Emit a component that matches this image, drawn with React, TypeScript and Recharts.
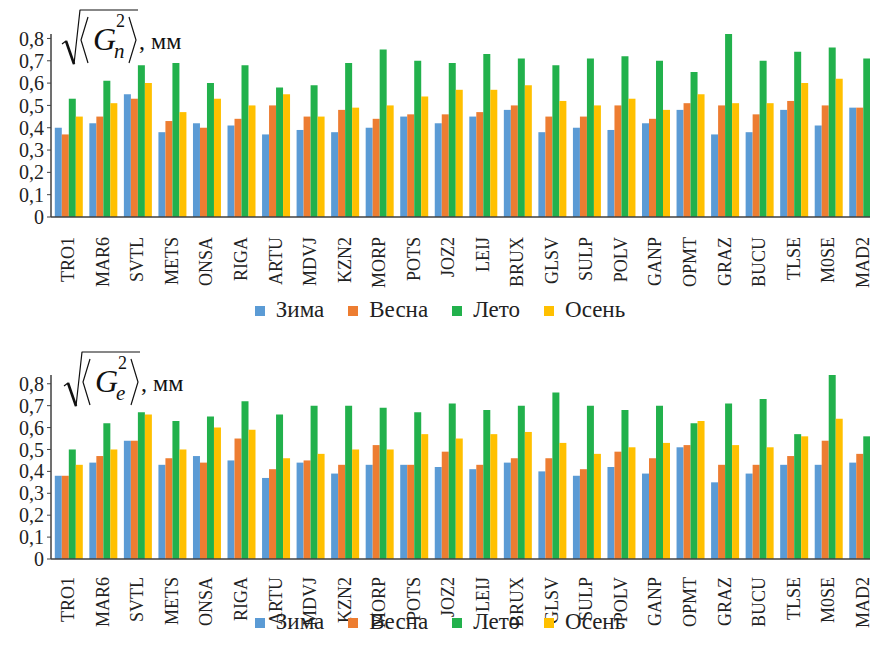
import React from 'react';
import { BarChart, Bar, XAxis, YAxis, Legend } from 'recharts';

const stations = [
  'TRO1', 'MAR6', 'SVTL', 'METS', 'ONSA', 'RIGA', 'ARTU', 'MDVJ', 'KZN2', 'MORP', 'POTS', 'JOZ2',
  'LEIJ', 'BRUX', 'GLSV', 'SULP', 'POLV', 'GANP', 'OPMT', 'GRAZ', 'BUCU', 'TLSE', 'M0SE', 'MAD2',
];

// north component
const gnWinter = [0.40, 0.42, 0.55, 0.38, 0.42, 0.41, 0.37, 0.39, 0.38, 0.40, 0.45, 0.42, 0.45, 0.48, 0.38, 0.40, 0.39, 0.42, 0.48, 0.37, 0.38, 0.48, 0.41, 0.49];
const gnSpring = [0.37, 0.45, 0.53, 0.43, 0.40, 0.44, 0.50, 0.45, 0.48, 0.44, 0.46, 0.46, 0.47, 0.50, 0.45, 0.45, 0.50, 0.44, 0.51, 0.50, 0.46, 0.52, 0.50, 0.49];
const gnSummer = [0.53, 0.61, 0.68, 0.69, 0.60, 0.68, 0.58, 0.59, 0.69, 0.75, 0.70, 0.69, 0.73, 0.71, 0.68, 0.71, 0.72, 0.70, 0.65, 0.82, 0.70, 0.74, 0.76, 0.71];
const gnAutumn = [0.45, 0.51, 0.60, 0.47, 0.53, 0.50, 0.55, 0.45, 0.49, 0.50, 0.54, 0.57, 0.57, 0.59, 0.52, 0.50, 0.53, 0.48, 0.55, 0.51, 0.51, 0.60, 0.62, 0.61];

// east component
const geWinter = [0.38, 0.44, 0.54, 0.43, 0.47, 0.45, 0.37, 0.44, 0.39, 0.43, 0.43, 0.42, 0.41, 0.44, 0.40, 0.38, 0.42, 0.39, 0.51, 0.35, 0.39, 0.43, 0.43, 0.44];
const geSpring = [0.38, 0.47, 0.54, 0.46, 0.44, 0.55, 0.41, 0.45, 0.43, 0.52, 0.43, 0.49, 0.43, 0.46, 0.46, 0.41, 0.49, 0.46, 0.52, 0.43, 0.43, 0.47, 0.54, 0.48];
const geSummer = [0.50, 0.62, 0.67, 0.63, 0.65, 0.72, 0.66, 0.70, 0.70, 0.69, 0.67, 0.71, 0.68, 0.70, 0.76, 0.70, 0.68, 0.70, 0.62, 0.71, 0.73, 0.57, 0.84, 0.56];
const geAutumn = [0.43, 0.50, 0.66, 0.50, 0.60, 0.59, 0.46, 0.48, 0.50, 0.50, 0.57, 0.55, 0.57, 0.58, 0.53, 0.48, 0.51, 0.53, 0.63, 0.52, 0.51, 0.56, 0.64, 0.50];

const yTicks = [0, 0.1, 0.2, 0.3, 0.4, 0.5, 0.6, 0.7, 0.8];

const seasons = [
  { key: 'winter', name: 'Зима', color: '#5B9BD5' },
  { key: 'spring', name: 'Весна', color: '#ED7D31' },
  { key: 'summer', name: 'Лето', color: '#22B14C' },
  { key: 'autumn', name: 'Осень', color: '#FFC000' },
];

const FONT = 'Liberation Serif';
const AXIS = '#404040';

const buildRows = (w: number[], s: number[], su: number[], a: number[]) =>
  stations.map((name, i) => ({ name, winter: w[i], spring: s[i], summer: su[i], autumn: a[i] }));

const gnData = buildRows(gnWinter, gnSpring, gnSummer, gnAutumn);
const geData = buildRows(geWinter, geSpring, geSummer, geAutumn);

const makeTick = (gap: number) => (props: any) => {
  const { x, y, payload } = props;
  return (
    <g transform={`translate(${x + 6},${y + gap}) rotate(-90)`}>
      <text textAnchor="end" fontSize={18} fontFamily={FONT} fill="#222">
        {payload.value}
      </text>
    </g>
  );
};

// legend drawn in series order
const renderLegend = () => (
  <div style={{ height: 28, display: 'flex', justifyContent: 'center', alignItems: 'center', fontFamily: FONT, fontSize: 23, color: '#222', paddingLeft: 24 }}>
    {seasons.map((s) => (
      <span key={s.key} style={{ display: 'flex', alignItems: 'center', marginRight: 24 }}>
        <span style={{ width: 10, height: 10, background: s.color, display: 'inline-block', marginRight: 11, marginTop: 2 }} />
        {s.name}
      </span>
    ))}
  </div>
);

const Title = ({ sub, top, left }: { sub: string; top: number; left: number }) => (
  <svg width={200} height={75} style={{ position: 'absolute', top, left, pointerEvents: 'none' }}>
    <path d="M62,44 L66,41 L74,64 L80,10 L138,10" fill="none" stroke="#111" strokeWidth={1.2} strokeLinejoin="round" />
    <path d="M66,41 L74,64" fill="none" stroke="#111" strokeWidth={2.6} />
    <path d="M88,17 L81,40 L88,63" fill="none" stroke="#111" strokeWidth={1.2} />
    <path d="M129,17 L136,40 L129,63" fill="none" stroke="#111" strokeWidth={1.2} />
    <text x={93} y={50} fontSize={32} fontStyle="italic" fontFamily={FONT} fill="#111">G</text>
    <text x={116} y={27} fontSize={18} fontFamily={FONT} fill="#111">2</text>
    <text x={114} y={58} fontSize={21} fontStyle="italic" fontFamily={FONT} fill="#111">{sub}</text>
    <text x={139} y={49} fontSize={24} fontFamily={FONT} fill="#111">, мм</text>
  </svg>
);

const SeasonChart = ({ data, height, margin, xHeight, tickGap }: any) => (
  <BarChart width={880} height={height} data={data} margin={margin} barCategoryGap="11%" barGap={0}>
    <XAxis
      dataKey="name"
      interval={0}
      height={xHeight}
      tick={makeTick(tickGap)}
      tickLine={false}
      axisLine={{ stroke: AXIS, strokeWidth: 1.5 }}
    />
    <YAxis
      width={51}
      domain={[0, 0.8]}
      ticks={yTicks}
      interval={0}
      tickSize={4}
      tickMargin={3}
      tickLine={{ stroke: AXIS }}
      axisLine={{ stroke: AXIS, strokeWidth: 1.5 }}
      tick={{ fontSize: 20, fill: '#222', fontFamily: FONT }}
      tickFormatter={(v: number) => (v === 0 ? '0' : v.toFixed(1).replace('.', ','))}
    />
    <Legend verticalAlign="bottom" content={renderLegend} />
    {seasons.map((s) => (
      <Bar key={s.key} dataKey={s.key} name={s.name} fill={s.color} isAnimationActive={false} />
    ))}
  </BarChart>
);

export default function App() {
  return (
    <div style={{ position: 'absolute', left: 0, top: 0, width: 870, height: 659, overflow: 'hidden', background: '#fff' }}>
      <style>{`#root text, #root div, #root span { font-family: 'Liberation Serif', 'Times New Roman', serif !important; }`}</style>
      <div style={{ position: 'relative', height: 330 }}>
        <SeasonChart data={gnData} height={330} margin={{ top: 34, right: 0, bottom: 6, left: 0 }} xHeight={79} tickGap={12} />
        <Title sub="n" top={0} left={0} />
      </div>
      <div style={{ position: 'relative', height: 329 }}>
        <SeasonChart data={geData} height={329} margin={{ top: 45, right: 0, bottom: 23, left: 0 }} xHeight={49} tickGap={10} />
        <Title sub="e" top={12} left={2} />
      </div>
    </div>
  );
}
